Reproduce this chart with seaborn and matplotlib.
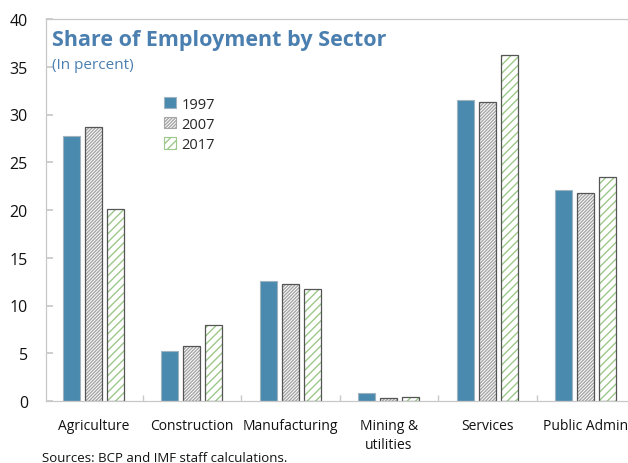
import numpy as np
import pandas as pd
import matplotlib
matplotlib.use("Agg")
import matplotlib.pyplot as plt
import seaborn as sns
from matplotlib.patches import Rectangle, Patch

sectors = ["Agriculture", "Construction", "Manufacturing", "Mining &\nutilities",
           "Services", "Public Admin"]
years = ["1997", "2007", "2017"]
share_1997 = [27.8, 5.2, 12.6, 0.8, 31.5, 22.1]
share_2007 = [28.7, 5.8, 12.2, 0.35, 31.3, 21.8]
share_2017 = [20.1, 8.0, 11.7, 0.45, 36.2, 23.5]
y_ticks = [0, 5, 10, 15, 20, 25, 30, 35, 40]

blue = "#4a8aae"
title_blue = "#4a7fb0"


def main():
    sns.set_theme(style="white")
    plt.rcParams["font.family"] = ["Open Sans", "DejaVu Sans"]
    plt.rcParams["hatch.linewidth"] = 1.0

    df = pd.DataFrame({
        "Sector": sectors * 3,
        "Year": [y for y in years for _ in sectors],
        "Share": share_1997 + share_2007 + share_2017,
    })

    fig = plt.figure(figsize=(6.28, 4.64), dpi=100)
    ax = fig.add_axes([46 / 628, 1 - 402 / 464, 591 / 628, (402 - 20) / 464])

    sns.barplot(data=df, x="Sector", y="Share", hue="Year", order=sectors,
                hue_order=years, width=0.67, gap=0.22, ax=ax, saturation=1,
                palette=[blue, "white", "white"], legend=False,
                err_kws={"linewidth": 0})

    styles = [
        dict(hatch=None, hatch_color=None, edge="#9fb3c0"),
        dict(hatch="//////////", hatch_color="#a6a6a6", edge="#555555"),
        dict(hatch="////", hatch_color="#9cc88a", edge="#555555"),
    ]
    for cont, st in zip(ax.containers, styles):
        for p in cont.patches:
            if st["hatch"] is None:
                p.set_edgecolor(st["edge"])
                p.set_linewidth(0.8)
            else:
                p.set_hatch(st["hatch"])
                p.set_edgecolor(st["hatch_color"])
                p.set_linewidth(0)
                ax.add_patch(Rectangle(p.get_xy(), p.get_width(), p.get_height(),
                                       fill=False, edgecolor=st["edge"],
                                       linewidth=0.9, zorder=p.get_zorder() + 0.1))

    ax.set_xlim(-0.48, 5.52)
    ax.set_ylim(0, 40)
    ax.set_yticks(y_ticks)
    ax.set_xlabel("")
    ax.set_ylabel("")

    for side in ["left", "top", "bottom"]:
        ax.spines[side].set_color("#c8c8c8")
        ax.spines[side].set_linewidth(0.9)
    ax.spines["right"].set_visible(False)

    ax.tick_params(axis="y", direction="in", length=5, color="#c8c8c8",
                   left=True, pad=13, labelsize=11.5, labelcolor="#111111")
    ax.tick_params(axis="x", which="major", length=0, pad=12, labelsize=10,
                   labelcolor="#111111")
    for lbl in ax.get_xticklabels():
        lbl.set_linespacing(1.35)
    ax.set_xticks(np.arange(0.5, 5.5, 1), minor=True)
    ax.tick_params(axis="x", which="minor", direction="in", length=4,
                   color="#c8c8c8", bottom=True)

    fig.text(52 / 628, 1 - 46 / 464, "Share of Employment by Sector",
             fontsize=15.5, fontweight="bold", color=title_blue, va="baseline")
    fig.text(52 / 628, 1 - 69 / 464, "(In percent)", fontsize=11,
             color=title_blue, va="baseline")

    handles = [
        Patch(facecolor=blue, edgecolor="#9fb3c0", linewidth=0.8),
        Patch(facecolor="white", edgecolor="#a6a6a6", hatch="//////////", linewidth=0.8),
        Patch(facecolor="white", edgecolor="#9cc88a", hatch="////", linewidth=0.8),
    ]
    ax.legend(handles, years, loc="upper left",
              bbox_to_anchor=((158 - 46) / 591, (402 - 92) / 382),
              frameon=False, fontsize=10.5, handlelength=0.8, handleheight=0.8,
              handletextpad=0.4, labelspacing=0.35, borderaxespad=0)

    fig.text(42 / 628, 1 - 462 / 464, "Sources: BCP and IMF staff calculations.",
             fontsize=9.5, color="#111111", va="baseline")

    fig.savefig("out.png", dpi=100)
    plt.close(fig)


if __name__ == "__main__":
    main()
